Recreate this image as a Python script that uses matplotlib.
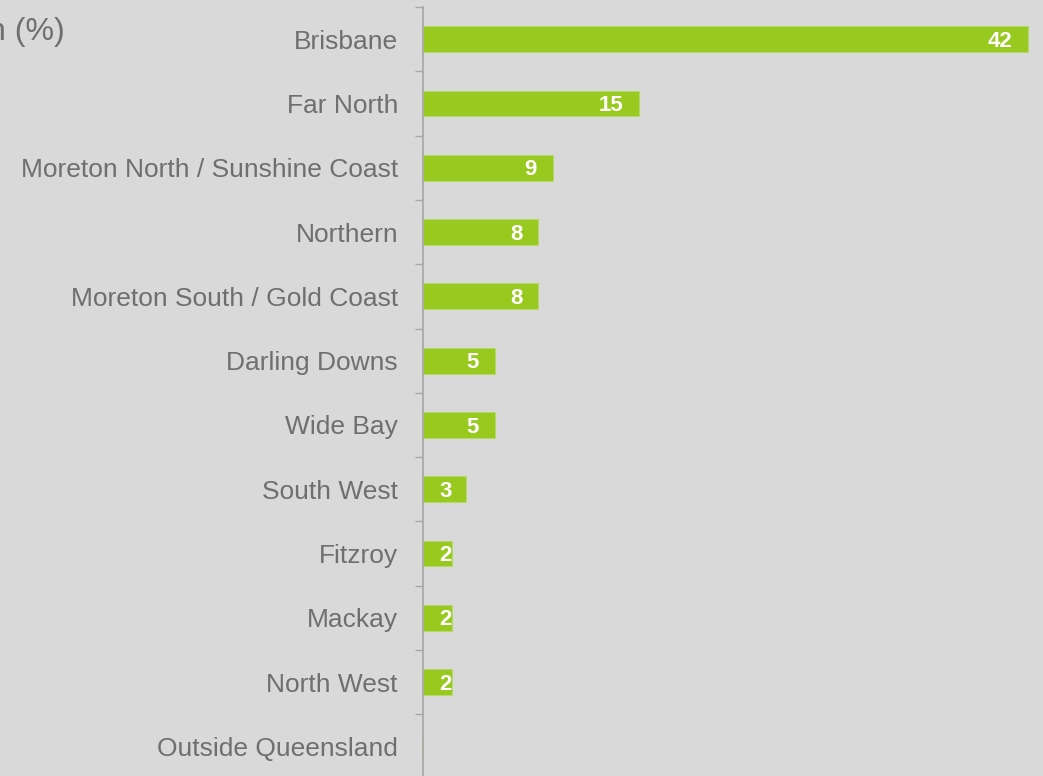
import matplotlib.pyplot as plt

regions = ["Brisbane", "Far North", "Moreton North / Sunshine Coast", "Northern",
           "Moreton South / Gold Coast", "Darling Downs", "Wide Bay", "South West",
           "Fitzroy", "Mackay", "North West", "Outside Queensland"]
pct = [42, 15, 9, 8, 8, 5, 5, 3, 2, 2, 2, 0]

BG = "#d9d9d9"
GREEN = "#97c91e"
GREY_TXT = "#6f6f6f"
AXIS = "#a6a6a6"

plt.rcParams['font.family'] = ['Liberation Sans', 'DejaVu Sans']

fig = plt.figure(figsize=(10.43, 7.76), dpi=100, facecolor=BG)
ax = fig.add_axes([423 / 1043, 1 - 778.6 / 776, 620 / 1043, 771.6 / 776])
ax.set_facecolor(BG)

ypos = list(range(len(regions)))
ax.barh(ypos, pct, height=0.4, color=GREEN, edgecolor="#b5d96a", linewidth=0.8)

xmax = 42 * 620 / 605
ax.set_xlim(0, xmax)
ax.set_ylim(len(regions) - 0.5, -0.5)

px_per_unit = 605 / 42
for y, v in zip(ypos, pct):
    if v <= 0:
        continue
    if v * px_per_unit > 45:
        ax.annotate(str(v), (v, y), xytext=(-11.5, -1.5), textcoords="offset points",
                    ha="right", va="center", color="white", fontsize=16, fontweight="bold")
    else:
        ax.annotate(str(v), (0, y), xytext=(11.5, -1.5), textcoords="offset points",
                    ha="left", va="center", color="white", fontsize=16, fontweight="bold")

# labels at category centres, tick marks on the boundaries
ax.set_yticks(ypos)
ax.set_yticklabels(regions, fontsize=19, color=GREY_TXT)
ax.tick_params(axis="y", which="major", length=0, pad=18)
ax.set_yticks([i - 0.5 for i in range(len(regions) + 1)], minor=True)
ax.tick_params(axis="y", which="minor", length=6, width=1, color=AXIS, direction="out")
ax.set_xticks([])

for s in ["top", "right", "bottom"]:
    ax.spines[s].set_visible(False)
ax.spines["left"].set_color(AXIS)
ax.spines["left"].set_linewidth(1.2)

fig.text(65 / 1043, 1 - 32 / 776, "n (%)", ha="right", va="center",
         fontsize=23, color=GREY_TXT)

fig.savefig("out.png", dpi=100, facecolor=BG)
